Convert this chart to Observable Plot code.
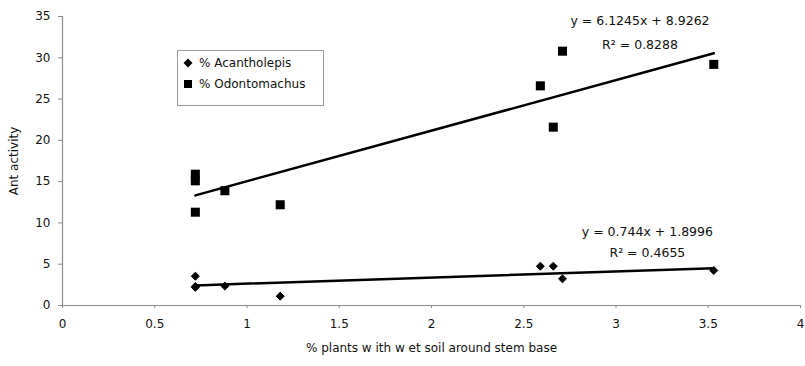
<!DOCTYPE html>
<html>
<head>
<meta charset="utf-8">
<script src="https://cdn.jsdelivr.net/npm/d3@7"></script>
<script src="https://cdn.jsdelivr.net/npm/@observablehq/plot@0.6"></script>
<style>
  html, body { margin: 0; padding: 0; background: #fff; }
  #wrap { position: relative; width: 805px; height: 366px; font-family: "DejaVu Sans", sans-serif; color: #111; }
  #legend { position: absolute; left: 177px; top: 50px; width: 147px; height: 56px; border: 1px solid #9a9a9a; background: #fff; font-size: 12px; box-sizing: border-box; }
  .item { position: absolute; left: 5px; display: flex; align-items: center; white-space: nowrap; }
  .item svg { margin-right: 6px; }
</style>
</head>
<body>
<div id="wrap">
  <div id="chart"></div>
  <div id="legend"></div>
</div>
<script>
// Sites: % plants with wet soil around stem base
const siteX = [0.72, 0.72, 0.72, 0.88, 1.18, 2.59, 2.66, 2.71, 3.53];
const acantholepis = [3.55, 2.2, 2.3, 2.35, 1.13, 4.76, 4.76, 3.23, 4.24];
const odontomachus = [11.3, 15.1, 15.9, 13.9, 12.2, 26.6, 21.6, 30.8, 29.2];

const seriesNames = ["% Acantholepis", "% Odontomachus"];
const seriesSymbols = ["diamond2", "square"];
// Trendline coefficients as printed on the chart
const slopes = [0.744, 6.1245];
const intercepts = [1.8996, 8.9262];
const eqLabels = ["y = 0.744x + 1.8996", "y = 6.1245x + 8.9262"];
const r2Labels = ["R\u00b2 = 0.4655", "R\u00b2 = 0.8288"];

const xTicks = [0, 0.5, 1, 1.5, 2, 2.5, 3, 3.5, 4];
const yTicks = [0, 5, 10, 15, 20, 25, 30, 35];

const xMin = d3.min(siteX), xMax = d3.max(siteX);
const acData = siteX.map((x, i) => ({x, y: acantholepis[i]}));
const odData = siteX.map((x, i) => ({x, y: odontomachus[i]}));
const trend = slopes.flatMap((m, k) => [xMin, xMax].map(x => ({k, x, y: m * x + intercepts[k]})));

// annotation anchor positions (data units)
const eqAnno = [
  {t: eqLabels[0], x: 3.17, y: 8.95},
  {t: r2Labels[0], x: 3.17, y: 6.3},
  {t: eqLabels[1], x: 3.13, y: 34.5},
  {t: r2Labels[1], x: 3.13, y: 31.6}
];

const chart = Plot.plot({
  width: 805,
  height: 366,
  marginLeft: 62,
  marginRight: 5,
  marginTop: 16,
  marginBottom: 61,
  style: {fontFamily: "DejaVu Sans, sans-serif", fontSize: "12px", color: "#111", background: "#fff"},
  x: {domain: [0, 4]},
  y: {domain: [0, 35]},
  marks: [
    Plot.ruleY([0], {stroke: "#8a8a8a", strokeWidth: 1.2}),
    Plot.ruleX([0], {stroke: "#8a8a8a", strokeWidth: 1.2}),
    Plot.axisX({ticks: xTicks, tickSize: 3, tickPadding: 11, tickFormat: d => String(d), stroke: "#8a8a8a",
      label: "% plants w ith w et soil around stem base", labelAnchor: "center", labelArrow: "none", labelOffset: 46}),
    Plot.axisY({ticks: yTicks, tickSize: 4, tickPadding: 8, stroke: "#8a8a8a",
      label: "Ant activity", labelAnchor: "center", labelArrow: "none", labelOffset: 53, fontSize: 12}),
    Plot.line(trend, {x: "x", y: "y", z: "k", stroke: "#000", strokeWidth: 2.5}),
    Plot.dot(odData, {x: "x", y: "y", symbol: "square", r: 5.1, fill: "#000"}),
    Plot.dot(acData, {x: "x", y: "y", symbol: "diamond2", r: 3.6, fill: "#000", stroke: "#000", strokeWidth: 1}),
    Plot.text(eqAnno, {x: "x", y: "y", text: "t", fontSize: 12.5, fill: "#111"})
  ]
});
document.getElementById("chart").appendChild(chart);

// Legend
const legend = document.getElementById("legend");
seriesNames.forEach((name, i) => {
  const div = document.createElement("div");
  div.className = "item";
  div.style.top = (i === 0 ? 5 : 26) + "px";
  const shape = seriesSymbols[i] === "square"
    ? '<rect x="1" y="1" width="8" height="8" fill="#000"/>'
    : '<path d="M5,0.5L9.5,5L5,9.5L0.5,5Z" fill="#000"/>';
  div.innerHTML = '<svg width="10" height="10">' + shape + '</svg><span>' + name + '</span>';
  legend.appendChild(div);
});
</script>
</body>
</html>
